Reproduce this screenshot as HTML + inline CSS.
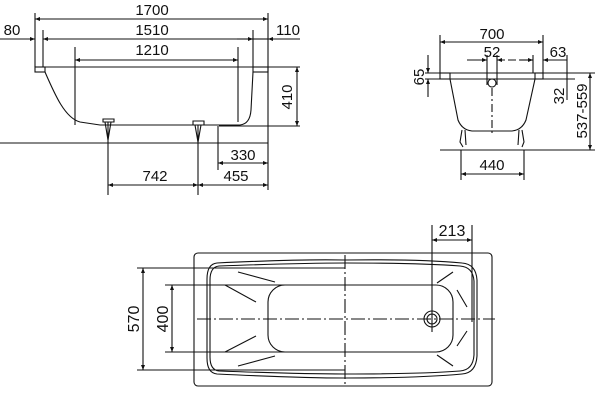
<!DOCTYPE html>
<html><head><meta charset="utf-8"><style>
html,body{margin:0;padding:0;background:#fff;}
svg{display:block;}
text{font-family:"Liberation Sans",Arial,sans-serif;font-size:15px;fill:#111;}
</style></head><body>
<svg width="600" height="400" viewBox="0 0 600 400" xmlns="http://www.w3.org/2000/svg">
<defs>
<marker id="a" viewBox="0 0 10 10" refX="10" refY="5" markerWidth="9" markerHeight="5" orient="auto-start-reverse" markerUnits="userSpaceOnUse"><path d="M0,1 L10,5 L0,9 z" fill="#111"/></marker>
</defs>
<g stroke="#111" stroke-width="1.1" fill="none">
<!-- SIDE VIEW -->
<line x1="35" y1="13" x2="35" y2="67"/>
<line x1="268" y1="13" x2="268" y2="190"/>
<line x1="43" y1="30" x2="43" y2="67"/>
<line x1="253" y1="30" x2="253" y2="67"/>
<line x1="75" y1="47" x2="75" y2="125"/>
<line x1="238" y1="47" x2="238" y2="122"/>
<line x1="35" y1="19" x2="268" y2="19" marker-start="url(#a)" marker-end="url(#a)"/>
<line x1="0" y1="39" x2="35" y2="39" marker-end="url(#a)"/>
<line x1="43" y1="39" x2="253" y2="39" marker-start="url(#a)"/>
<line x1="253" y1="39" x2="268" y2="39"/>
<line x1="268" y1="39" x2="300" y2="39" marker-start="url(#a)"/>
<line x1="237" y1="39" x2="253" y2="39" marker-end="url(#a)"/>
<line x1="75" y1="60" x2="238" y2="60" marker-start="url(#a)" marker-end="url(#a)"/>
<line x1="35" y1="67" x2="300" y2="67"/>
<rect x="35" y="67" width="10" height="5"/>
<rect x="253" y="67" width="15" height="5"/>
<path d="M45,72 C55,95 65,118 80,122 L100,125 L200,125 L240,125 Q250,124 251,110 L253,72"/>
<line x1="219" y1="126" x2="300" y2="126"/>
<line x1="297" y1="67" x2="297" y2="126" marker-start="url(#a)" marker-end="url(#a)"/>
<line x1="0" y1="143" x2="268" y2="143"/>
<path d="M103,119 h11 v3 h-11 z M105,122 l3,18 l3,-18"/>
<line x1="108" y1="122" x2="108" y2="195"/>
<path d="M193,121 h11 v4 h-11 z M195,125 l3,17 l3,-17"/>
<line x1="198" y1="125" x2="198" y2="195"/>
<line x1="218" y1="126" x2="218" y2="170"/>
<line x1="218" y1="163" x2="268" y2="163" marker-start="url(#a)" marker-end="url(#a)"/>
<line x1="108" y1="185" x2="198" y2="185" marker-start="url(#a)" marker-end="url(#a)"/>
<line x1="198" y1="185" x2="268" y2="185" marker-start="url(#a)" marker-end="url(#a)"/>

<!-- END VIEW -->
<line x1="440" y1="35" x2="440" y2="73"/>
<line x1="543" y1="35" x2="543" y2="73"/>
<line x1="440" y1="42" x2="543" y2="42" marker-start="url(#a)" marker-end="url(#a)"/>
<line x1="467" y1="60" x2="487" y2="60" marker-end="url(#a)"/>
<line x1="497" y1="60" x2="520" y2="60" marker-start="url(#a)" stroke-dasharray="8,3"/>
<line x1="520" y1="60" x2="533" y2="60" marker-end="url(#a)"/>
<line x1="567" y1="60" x2="543" y2="60" marker-end="url(#a)"/>
<line x1="487" y1="55" x2="487" y2="85"/>
<line x1="497" y1="55" x2="497" y2="85"/>
<line x1="533" y1="55" x2="533" y2="73"/>
<line x1="567" y1="55" x2="567" y2="100"/>
<line x1="425" y1="73" x2="595" y2="73"/>
<line x1="425" y1="79" x2="575" y2="79"/>
<line x1="428" y1="55" x2="428" y2="73" marker-end="url(#a)"/>
<line x1="428" y1="97" x2="428" y2="79" marker-end="url(#a)"/>
<rect x="440" y="73" width="10" height="6"/>
<rect x="535" y="73" width="8" height="6"/>
<path d="M450,79 L458,120 Q462,130 472,131 L512,131 Q522,130 526,120 L535,79"/>
<circle cx="492" cy="83" r="4"/>
<line x1="492" y1="88" x2="492" y2="135" stroke-dasharray="8,3,2,3"/>
<path d="M462,130 l-2,12 l3,5 M465,130 l1,15 M522,130 l2,12 l-2,5 M519,130 l-1,15"/>
<line x1="440" y1="150" x2="595" y2="150"/>
<line x1="590" y1="73" x2="590" y2="150" marker-start="url(#a)" marker-end="url(#a)"/>
<line x1="461" y1="150" x2="461" y2="180"/>
<line x1="524" y1="150" x2="524" y2="180"/>
<line x1="461" y1="174" x2="524" y2="174" marker-start="url(#a)" marker-end="url(#a)"/>

<!-- PLAN VIEW -->
<rect x="194" y="253" width="298" height="133" rx="4"/>
<path d="M217,263 Q300,259 345,260 Q420,259 462,263 Q476,264 477,280 L477,356 Q476,373 462,374 Q420,378 345,378 Q300,378 217,374 Q207,373 207,358 L207,279 Q207,264 217,263 Z"/>
<path d="M219,266 Q300,263 345,263 Q420,263 460,266 Q473,267 474,281 L474,355 Q473,370 460,371 Q420,374 345,374 Q300,374 219,371 Q210,370 210,357 L210,280 Q210,267 219,266 Z"/>
<rect x="268" y="285" width="185" height="67" rx="17"/>
<line x1="345" y1="255" x2="345" y2="386" stroke-dasharray="14,3,2,3"/>
<line x1="197" y1="319" x2="495" y2="319" stroke-dasharray="14,3,2,3"/>
<circle cx="432" cy="319" r="8"/>
<circle cx="432" cy="319" r="5"/>
<line x1="432" y1="225" x2="432" y2="332"/>
<line x1="472" y1="225" x2="472" y2="322"/>
<line x1="432" y1="240" x2="472" y2="240" marker-start="url(#a)" marker-end="url(#a)"/>
<line x1="137" y1="268" x2="345" y2="268"/>
<line x1="137" y1="370" x2="345" y2="370"/>
<line x1="165" y1="285" x2="345" y2="285"/>
<line x1="165" y1="352" x2="345" y2="352"/>
<line x1="143" y1="268" x2="143" y2="370" marker-start="url(#a)" marker-end="url(#a)"/>
<line x1="172" y1="285" x2="172" y2="352" marker-start="url(#a)" marker-end="url(#a)"/>
<path d="M238,272 L275,282 M225,285 L256,302 M225,352 L256,336 M238,366 L275,356 M437,283 L453,272 M457,290 L467,307 M457,346 L467,331 M437,355 L453,366"/>
</g>
<text x="152" y="15" text-anchor="middle">1700</text>
<text x="152" y="35" text-anchor="middle">1510</text>
<text x="152" y="55" text-anchor="middle">1210</text>
<text x="12" y="35" text-anchor="middle">80</text>
<text x="288" y="35" text-anchor="middle">110</text>
<text x="243" y="160" text-anchor="middle">330</text>
<text x="155" y="181" text-anchor="middle">742</text>
<text x="236" y="181" text-anchor="middle">455</text>
<text transform="translate(292,97) rotate(-90)" text-anchor="middle">410</text>
<text x="492" y="39" text-anchor="middle">700</text>
<text x="492" y="57" text-anchor="middle">52</text>
<text x="558" y="57" text-anchor="middle">63</text>
<text x="492" y="170" text-anchor="middle">440</text>
<text transform="translate(424,77) rotate(-90)" text-anchor="middle">65</text>
<text transform="translate(564,96) rotate(-90)" text-anchor="middle">32</text>
<text transform="translate(587,111) rotate(-90)" text-anchor="middle">537-559</text>
<text x="452" y="236" text-anchor="middle" style="font-size:16px">213</text>
<text transform="translate(139,319) rotate(-90)" text-anchor="middle" style="font-size:16px">570</text>
<text transform="translate(168,319) rotate(-90)" text-anchor="middle" style="font-size:16px">400</text>
</svg>
</body></html>
